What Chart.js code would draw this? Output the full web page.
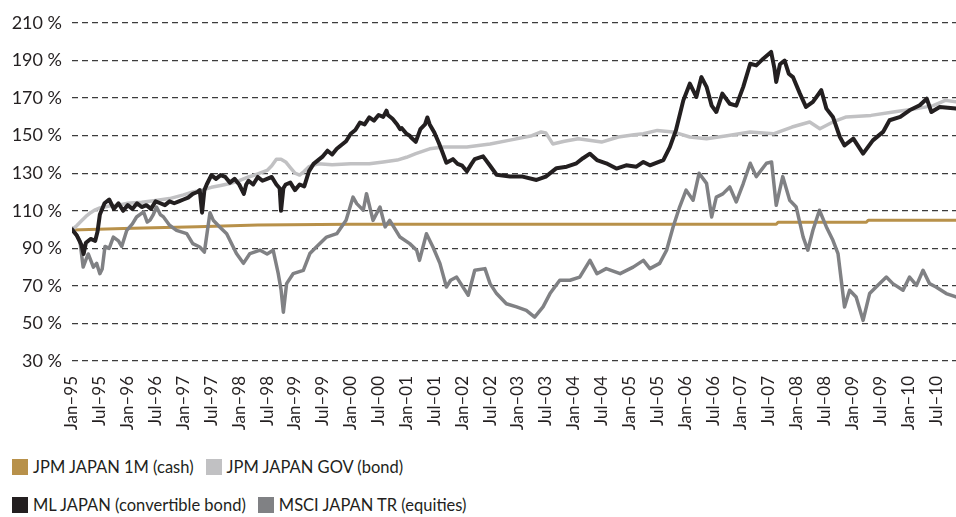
<!DOCTYPE html>
<html><head><meta charset="utf-8">
<script src="https://cdn.jsdelivr.net/npm/chart.js@4.4.1/dist/chart.umd.min.js"></script>
<style>
html,body{margin:0;padding:0;background:#fff;}
#wrap{position:relative;width:956px;height:517px;overflow:hidden;}
#c{position:absolute;left:0;top:0;}
#legend{position:absolute;left:12px;top:448px;font-family:Lato,sans-serif;font-size:16.5px;color:#231f20;}
.row{height:38px;display:flex;align-items:center;white-space:nowrap;}
.item{display:flex;align-items:center;margin-right:12px;}
.sw{width:16px;height:16px;margin-right:5px;flex:none;}
</style></head>
<body>
<div id="wrap"><canvas id="c" width="956" height="440"></canvas><div id="legend"></div></div>
<script>
// x values are months since Jan-95
const tickLabels = ['Jan–95','Jul–95','Jan–96','Jul–96','Jan–97','Jul–97','Jan–98','Jul–98','Jan–99','Jul–99','Jan–00','Jul–00','Jan–01','Jul–01','Jan–02','Jul–02','Jan–03','Jul–03','Jan–04','Jul–04','Jan–05','Jul–05','Jan–06','Jul–06','Jan–07','Jul–07','Jan–08','Jul–08','Jan–09','Jul–09','Jan–10','Jul–10'];
const seriesNames = ['JPM JAPAN 1M (cash)','JPM JAPAN GOV (bond)','ML JAPAN (convertible bond)','MSCI JAPAN TR (equities)'];

const cashMonths = [0,13,27,40,60,151.6,152,171,171.4,190.3];
const cashValues = [99.8,100.7,101.5,102.4,102.8,102.8,103.9,103.9,105.0,105.0];

const bondMonths = [0,1,2,3,4,5,6,8,10,12,15,18,21,24,26,28,30,32,34,36,38,40,42,43,44,45,46,47,48,49,50,51,53,56,60,64,67,70,72,74,77,80,85,90,94,99,101,102,103.5,106,109,114,117.6,121,123,126,129.4,133,136.6,141,146,151,155,158.8,161,163.8,166.7,172,176.8,181.8,185.4,188,190.3];
const bondValues = [100,102,104.5,107,109,110.5,111.5,112.5,113,114,114.5,115.5,116.5,118.5,120,121,122.5,123.5,124.5,126,128,129.6,131.5,134,137.5,137.5,136,133,130,129,131,133.5,135,134.5,135,135,136,137,138.5,140.4,143,144,144,145.6,147.5,150,152,151.5,145.6,147,148.4,146.6,149.3,150.5,151,152.8,152,149.3,148.4,150,152,151,154.6,157.3,153.7,157.3,160,160.8,162.6,164.4,166,168.8,168];

const cbMonths = [0,1,2,2.5,3,4,5,5.5,6,7,8,9,10,11,12,13,14,15,16,17,18,19,20,21,22,23,24,25,26,27,27.5,28,28.5,29,30,31,32,33,34,35,36,37,37.5,38,39,40,41,42,43,44,44.7,45,45.5,46,47,48,49,50,51,52,53,54,55,56,57,58,59,60,61,62,63,64,65,66,67,67.7,68,69,70,70.6,71,72,72.7,73,74,75,76,76.5,77,78,79,79.5,80.6,82,83,84,85,86,86.7,88.5,90,91.4,94.3,97,100,102,104.3,106.5,108.6,110,111.5,113,115,117.2,119.3,121.5,123,124.4,127.3,128.7,130,131.6,133,134.4,135.5,136.6,137.7,138.7,140,141.6,143,144.5,146,147.3,148.8,150.5,151.2,151.6,152.4,153.4,154.3,155.2,156.7,158,159.5,161.3,162.4,163.8,165.3,166.3,168.2,170.3,172.4,174.6,176,178.3,180.3,182.5,184,185,186.8,190.3];
const cbValues = [100,97,92,87,93,95,94,99,108,114,116,111,114,110,113,111,114,112,113,111,115,114,113,115,114,115,116,117,119,120,121,109,121,124,129,127,129,128,125,127,124,119,124,126,124,128,126,127,128,124,122,110,122,124,125,121,124,123,131,135,137,139,142,140,143,145,147,151,153,157,156,159.7,158,161,160,163.3,161,159,156,153.5,154,151,150,149,146.7,153.5,156,159.7,156,151.7,146,142.8,135.6,137.5,135,134,131,135,137.5,139,134,129.2,128.2,128.2,126.4,128.2,132.7,133.5,135.3,138,140.4,137,135.3,132.5,134.2,133.5,136,134.2,137,143.9,152.8,168.8,177.7,170.6,181.2,176,166,162.6,172.4,167,166,176,188.3,187.4,191,194.6,186,178.6,188,190,183,181.2,172.4,165.3,168,174.2,164.4,160,149.3,144.8,148.4,140.4,147.5,152,158.2,160,163.5,166.2,169.7,162.6,165.3,164.4];

const eqMonths = [0,1,1.7,2.4,3,3.5,4.6,5.3,6,6.5,7.1,8,8.9,10,10.7,11.8,13,13.9,15.4,16.2,16.8,17.5,18.2,19,19.7,21,22.5,24.7,26,27.5,28.5,29.7,30.4,31.8,33.3,35.4,36.9,38.3,40.5,42,43.3,44.4,45,45.5,46.2,47.6,49.8,51.2,52.7,54.8,57,59,60.5,61.3,62.7,63.4,64.8,66.3,67.4,68.4,70.6,72.7,74.2,74.8,76.3,77.7,79.2,80.6,81.5,82.8,84,85.3,86.7,88.9,90,91.4,93.5,95.7,97.8,99.6,101.4,102.9,105,107.2,109.3,111.5,113,115,118,120.8,123,124.4,126.5,128,129.4,130.8,132.2,133.7,135,136.6,137.7,138.7,140.1,141.6,143,144.5,146,147.3,149.5,150.6,151.6,153,154.5,155.9,157.4,158.4,159.5,160.9,162.4,163.8,164.9,165.6,166.3,167.4,168.8,170.3,171.7,173.1,175.3,176.7,178.9,180.3,181.8,183.2,184.6,186,188.2,190.3];
const eqValues = [100.6,97,94,80,84,87,80,82,76.5,79,91,90,96,94,91,99.6,103,106.7,109.4,104,105,108,112,108,106.7,102.3,99.6,97.8,92.5,90.7,88,109,105,101.4,97.8,87.2,82,87.2,89,87,89,76.5,68,56,71.2,76.5,78.3,87.2,91,96,97.8,104.9,117.3,113.8,110.3,119.1,104.9,112,101.4,104.9,96,92.5,89,83.6,97.8,90.7,82,69.4,73,74.7,70,65,78.3,79.2,71.2,65.9,60.5,58.8,57,53.4,58.8,65.9,73,73,74.7,83.6,76.5,79.2,76.5,80,83.6,79.2,82,89,101.4,112,121,115.6,130,124.6,106.7,117.3,119,122.7,114.7,124.5,135.3,128.2,135.3,136,112.9,128.2,115.6,112,96,89,99.6,110.3,101.4,94.3,87.2,73,58.8,67.7,64.1,51.6,65.9,69.4,74.7,71.2,67.7,74.7,70.3,78.3,71.2,69.4,65.9,64.1];

const colors = ['#b8914a','#c1c1c3','#231f20','#808184'];

function pts(xs, ys){ return xs.map((x,i)=>({x:x,y:ys[i]})); }

const datasets = [
  {label:seriesNames[0], data:pts(cashMonths,cashValues), borderColor:colors[0], borderWidth:3, order:3},
  {label:seriesNames[1], data:pts(bondMonths,bondValues), borderColor:colors[1], borderWidth:3.5, order:2},
  {label:seriesNames[2], data:pts(cbMonths,cbValues), borderColor:colors[2], borderWidth:4, order:0},
  {label:seriesNames[3], data:pts(eqMonths,eqValues), borderColor:colors[3], borderWidth:3.5, order:1}
];

const chart = new Chart(document.getElementById('c'), {
  type:'line',
  data:{datasets:datasets},
  options:{
    responsive:false, animation:false, parsing:false,
    layout:{padding:{top:23,right:0,left:0,bottom:0}},
    plugins:{legend:{display:false}, tooltip:{enabled:false}},
    elements:{point:{radius:0}, line:{tension:0, borderJoinStyle:'round', borderCapStyle:'round'}},
    scales:{
      x:{type:'linear', min:0, max:190.3,
         grid:{display:false, drawTicks:false}, border:{display:false},
         afterBuildTicks:s=>{ s.ticks = tickLabels.map((_,i)=>({value:i*6})); },
         afterFit:s=>{ s.height = 79; s.paddingRight = 0; s.paddingLeft = 0; },
         ticks:{autoSkip:false, maxRotation:90, minRotation:90, padding:15,
                font:{family:'Lato', size:17}, color:'#231f20',
                callback:(v)=>tickLabels[Math.round(v/6)]}},
      y:{min:30, max:210,
         afterFit:s=>{ s.width = 72; },
         grid:{color:'#3c3c3c', lineWidth:1.3, drawTicks:false},
         border:{display:false, dash:[6,4]},
         ticks:{stepSize:20, padding:10, font:{family:'Lato', size:18}, color:'#231f20',
                callback:v=>v+' %'}}
    }
  }
});

// HTML legend (two rows, as in the reference)
const legendRows = [[0,1],[2,3]];
const lg = document.getElementById('legend');
legendRows.forEach(r=>{
  const row = document.createElement('div'); row.className='row';
  r.forEach(i=>{
    const it = document.createElement('div'); it.className='item';
    const sw = document.createElement('span'); sw.className='sw'; sw.style.background=colors[i];
    const tx = document.createElement('span'); tx.textContent = chart.data.datasets[i].label;
    it.appendChild(sw); it.appendChild(tx); row.appendChild(it);
  });
  lg.appendChild(row);
});
</script>
</body></html>
